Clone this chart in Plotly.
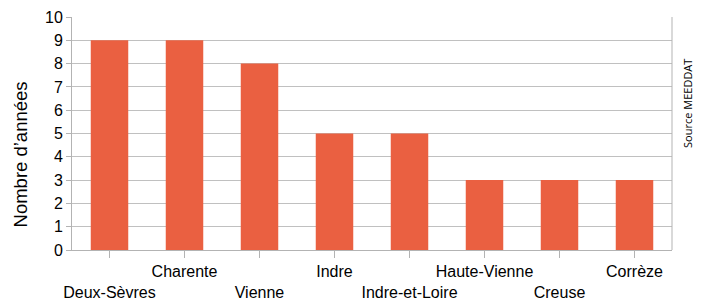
import plotly.graph_objects as go

categories = ["Deux-Sèvres", "Charente", "Vienne", "Indre", "Indre-et-Loire",
              "Haute-Vienne", "Creuse", "Corrèze"]
values = [9, 9, 8, 5, 5, 3, 3, 3]
y_ticks = list(range(0, 11))

ticktext = [("<br>" + c) if i % 2 == 0 else c for i, c in enumerate(categories)]

fig = go.Figure(go.Bar(x=categories, y=values, marker_color="#ea6041",
                       marker_line_width=0, width=0.5, hoverinfo="skip"))

fig.update_layout(
    width=702, height=302,
    margin=dict(l=72, r=30, t=17, b=52),
    plot_bgcolor="white", paper_bgcolor="white",
    font=dict(family="Liberation Sans, Arial, sans-serif", size=16, color="#000"),
    showlegend=False,
)
fig.update_xaxes(
    tickmode="array", tickvals=categories, ticktext=ticktext,
    ticks="outside", ticklen=7, tickcolor="#b3b3b3",
    showline=True, linecolor="#b3b3b3", linewidth=1,
    showgrid=False, tickangle=0, tickfont=dict(size=16), automargin=False,
)
fig.update_yaxes(
    range=[0, 10], tickvals=y_ticks, ticks="outside", ticklen=5, tickcolor="#b3b3b3",
    showline=True, linecolor="#b3b3b3", linewidth=1,
    showgrid=True, gridcolor="#c0c0c0", gridwidth=1,
    tickfont=dict(size=16), zeroline=False, automargin=False,
)
# right border
fig.add_shape(type="line", xref="paper", yref="paper", x0=1, x1=1, y0=0, y1=1,
              line=dict(color="#b3b3b3", width=1))
# y-axis title
fig.add_annotation(text="Nombre d’années", xref="paper", yref="paper",
                   x=0, xshift=-52, xanchor="center", y=0.41, yanchor="middle",
                   textangle=-90, showarrow=False,
                   font=dict(family="Liberation Sans, Arial, sans-serif", size=18.5, color="#000"))
fig.add_annotation(text="Source MEEDDAT", xref="paper", yref="paper",
                   x=1, xshift=16, xanchor="center", y=0.627, yanchor="middle",
                   textangle=-90, showarrow=False,
                   font=dict(family="Open Sans, sans-serif", size=11, color="#000"))

fig.write_html("out.html", config={"displayModeBar": False},
               post_script="document.body.style.margin='0';")
